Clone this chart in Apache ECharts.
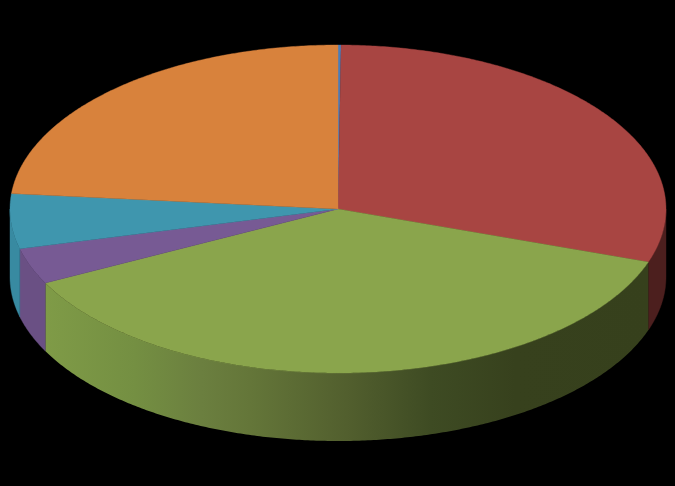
<!DOCTYPE html>
<html>
<head>
<meta charset="utf-8">
<style>html,body{margin:0;padding:0;background:#000}#c{width:675px;height:486px}</style>
<script src="https://cdn.jsdelivr.net/npm/echarts@6/dist/echarts.min.js"></script>
</head>
<body>
<div id="c"></div>
<script>
const categories = ['A', 'B', 'C', 'D', 'E', 'F'];
const values = [0.15, 30.1, 37.3, 3.55, 5.4, 23.5];
const topColors = ['#4a7ebb', '#a84542', '#8aa54c', '#775a94', '#3f96ae', '#d8823c'];
const sideColors = ['#2c4c70', '#4c1f1e', null, '#6a5084', '#388aa1', '#7a4a22'];

const cx = 338, cy = 209, rx = 328, ry = 164, depth = 68;
const total = values.reduce((a, b) => a + b, 0);
const pt = (deg, dy) => {
  const r = deg * Math.PI / 180;
  return [cx + rx * Math.sin(r), cy - ry * Math.cos(r) + (dy || 0)];
};
const arc = (a, b, dy) => {
  const n = Math.max(2, Math.ceil((b - a) * 2));
  const out = [];
  for (let i = 0; i <= n; i++) out.push(pt(a + (b - a) * i / n, dy));
  return out;
};
const starts = [];
values.reduce((s, v, i) => { starts[i] = s; return s + v; }, 0);

const greenSide = new echarts.graphic.LinearGradient(45, 0, 648, 0, [
  { offset: 0, color: '#7f9b47' },
  { offset: 0.15, color: '#748f42' },
  { offset: 0.26, color: '#6b7f3f' },
  { offset: 0.34, color: '#647639' },
  { offset: 0.5, color: '#525f2e' },
  { offset: 0.64, color: '#3e4b23' },
  { offset: 0.78, color: '#37411d' },
  { offset: 1, color: '#36401c' }
], true);

function renderItem(params, api) {
  const i = api.value(0);
  const a = starts[i] / total * 360;
  const b = (starts[i] + values[i]) / total * 360;
  const children = [];
  const sa = Math.max(a, 90), sb = Math.min(b, 270);
  if (sb > sa) {
    const fill = sideColors[i] || greenSide;
    const stroke = sideColors[i] || 'transparent';
    children.push({
      type: 'polygon',
      shape: { points: arc(sa, sb, 0).concat(arc(sa, sb, depth).reverse()) },
      style: { fill, stroke, lineWidth: 0.4 }
    });
  }
  children.push({
    type: 'polygon',
    shape: { points: [[cx, cy]].concat(arc(a, b, 0)) },
    style: { fill: topColors[i], stroke: topColors[i], lineWidth: 0.4 }
  });
  return { type: 'group', children };
}

const chart = echarts.init(document.getElementById('c'), null, { renderer: 'canvas' });
chart.setOption({
  backgroundColor: '#000000',
  animation: false,
  series: [{
    type: 'custom',
    coordinateSystem: 'none',
    renderItem,
    data: categories.map((c, i) => ({ name: c, value: [i, values[i]] }))
  }]
});
</script>
</body>
</html>
